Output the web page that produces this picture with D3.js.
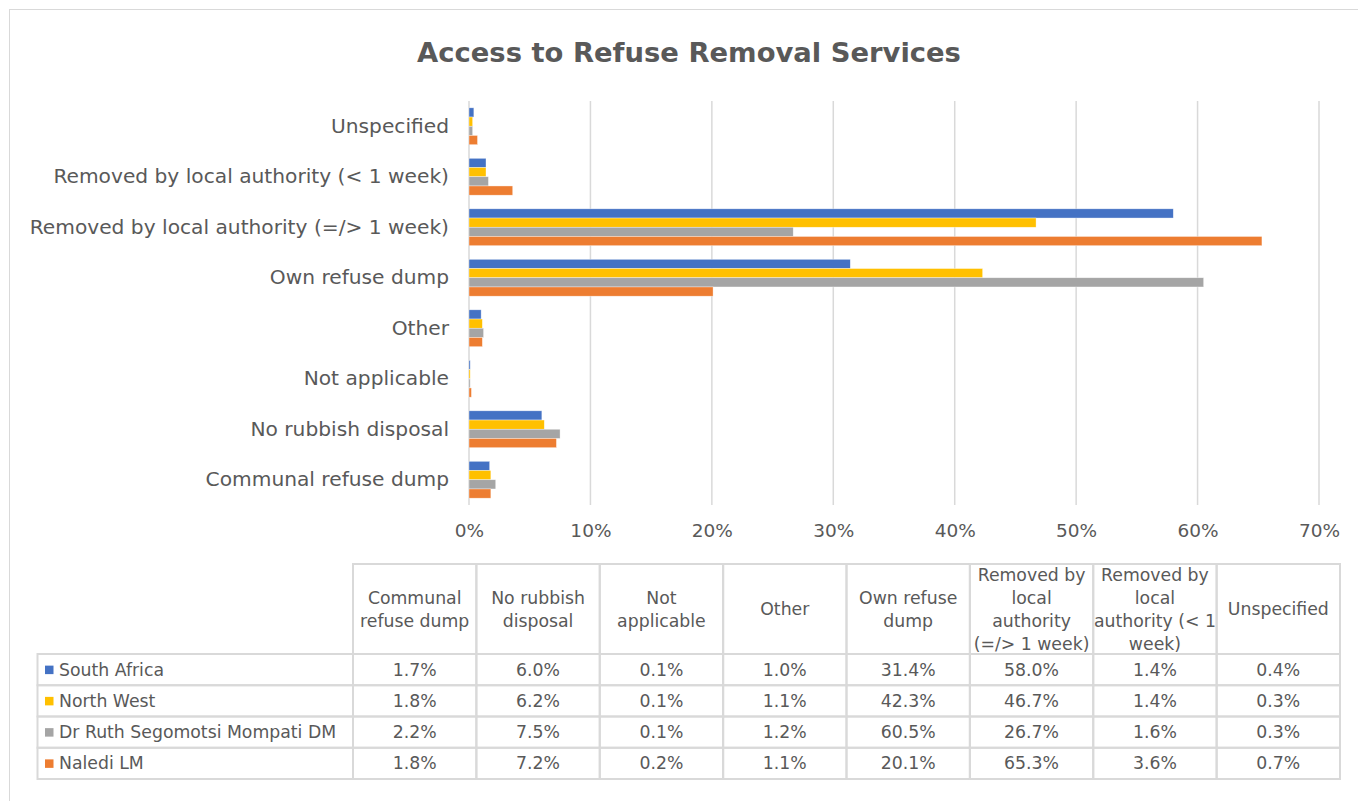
<!DOCTYPE html>
<html>
<head>
<meta charset="utf-8">
<script src="https://cdn.jsdelivr.net/npm/d3@7"></script>
<style>
  html, body { margin: 0; padding: 0; background: #fff; }
  svg { display: block; }
  text { font-family: "DejaVu Sans", sans-serif; fill: #595959; }
</style>
</head>
<body>
<svg id="chart" width="1358" height="801"></svg>
<script>
// Refuse removal categories, in table order (bottom-to-top on the bar chart)
const categories = [
  "Communal refuse dump",
  "No rubbish disposal",
  "Not applicable",
  "Other",
  "Own refuse dump",
  "Removed by local authority (=/> 1 week)",
  "Removed by local authority (< 1 week)",
  "Unspecified"
];

// Header text of the data table, split into lines
const headerLines = [
  ["Communal", "refuse dump"],
  ["No rubbish", "disposal"],
  ["Not", "applicable"],
  ["Other"],
  ["Own refuse", "dump"],
  ["Removed by", "local", "authority", "(=/> 1 week)"],
  ["Removed by", "local", "authority (< 1", "week)"],
  ["Unspecified"]
];

const seriesNames = ["South Africa", "North West", "Dr Ruth Segomotsi Mompati DM", "Naledi LM"];
const seriesColors = ["#4472C4", "#FFC000", "#A5A5A5", "#ED7D31"];

// Share of households (%) per category
const southAfrica = [1.7, 6.0, 0.1, 1.0, 31.4, 58.0, 1.4, 0.4];
const northWest   = [1.8, 6.2, 0.1, 1.1, 42.3, 46.7, 1.4, 0.3];
const drRuth      = [2.2, 7.5, 0.1, 1.2, 60.5, 26.7, 1.6, 0.3];
const naledi      = [1.8, 7.2, 0.2, 1.1, 20.1, 65.3, 3.6, 0.7];

const xTicks = [0, 10, 20, 30, 40, 50, 60, 70];

const seriesValues = [southAfrica, northWest, drRuth, naledi];

const svg = d3.select("#chart");

// Chart frame
svg.append("rect")
  .attr("x", 9.5).attr("y", 9.5)
  .attr("width", 1400).attr("height", 820)
  .attr("fill", "#fff")
  .attr("stroke", "#d9d9d9").attr("stroke-width", 1);

// Title
svg.append("text")
  .attr("x", 689).attr("y", 62)
  .attr("text-anchor", "middle")
  .style("font-size", "27.4px")
  .style("font-weight", "bold")
  .text("Access to Refuse Removal Services");

// Scales
const x = d3.scaleLinear().domain([0, 70]).range([469, 1319]);
const y = d3.scaleBand()
  .domain(categories.slice().reverse())
  .range([101, 505])
  .paddingInner(0.27)
  .paddingOuter(0.135);
const ySeries = d3.scaleBand()
  .domain(seriesNames)
  .range([0, y.bandwidth()]);

// Vertical gridlines
svg.append("g")
  .selectAll("line")
  .data(xTicks)
  .join("line")
  .attr("x1", d => x(d)).attr("x2", d => x(d))
  .attr("y1", 101).attr("y2", 505)
  .attr("stroke", "#d9d9d9").attr("stroke-width", 1.5);

// Bars
const groups = svg.append("g")
  .selectAll("g")
  .data(seriesNames)
  .join("g")
  .attr("fill", (d, i) => seriesColors[i]);

groups.selectAll("rect")
  .data((s, si) => categories.map((c, ci) => ({ c, s, v: seriesValues[si][ci] })))
  .join("rect")
  .attr("x", x(0))
  .attr("y", d => y(d.c) + ySeries(d.s))
  .attr("width", d => x(d.v) - x(0))
  .attr("height", ySeries.bandwidth())
  .attr("stroke", "rgba(255,255,255,0.6)")
  .attr("stroke-width", 0.6);

// Category axis
const yAxis = svg.append("g")
  .attr("transform", "translate(469,0)")
  .call(d3.axisLeft(y).tickSize(0).tickPadding(20));
yAxis.select(".domain").remove();
yAxis.selectAll("text")
  .style("font-size", "20.2px")
  .style("fill", "#595959")
  .style("font-family", "'DejaVu Sans', sans-serif");

// Value axis
const xAxis = svg.append("g")
  .attr("transform", "translate(0,505)")
  .call(d3.axisBottom(x).tickValues(xTicks).tickFormat(d => d + "%").tickSize(0).tickPadding(19));
xAxis.select(".domain").remove();
xAxis.selectAll("text")
  .style("font-size", "18.5px")
  .style("fill", "#595959")
  .style("font-family", "'DejaVu Sans', sans-serif");

// Data table
const colX = d3.scaleBand().domain(categories).range([353, 1340]);
const tableTop = 564, headerBottom = 654, tableBottom = 779, tableLeft = 37.5;
const rowY = d3.scaleBand().domain(seriesNames).range([headerBottom, tableBottom]);
const gridColor = "#d9d9d9";
const tableFont = "17.3px";
const tbl = svg.append("g");

// Header cells
tbl.selectAll("rect.hdr")
  .data(categories)
  .join("rect")
  .attr("class", "hdr")
  .attr("x", d => colX(d)).attr("y", tableTop)
  .attr("width", colX.bandwidth()).attr("height", headerBottom - tableTop)
  .attr("fill", "none").attr("stroke", gridColor).attr("stroke-width", 2);

const lineH = 23;
tbl.selectAll("text.hdr")
  .data(categories)
  .join("text")
  .attr("class", "hdr")
  .attr("text-anchor", "middle")
  .style("font-size", tableFont)
  .each(function (d, i) {
    const lines = headerLines[i];
    const cx = colX(d) + colX.bandwidth() / 2;
    const mid = (tableTop + headerBottom) / 2;
    const start = mid - (lines.length - 1) * lineH / 2;
    d3.select(this).selectAll("tspan")
      .data(lines)
      .join("tspan")
      .attr("x", cx)
      .attr("y", (l, k) => start + k * lineH)
      .attr("dy", "0.35em")
      .text(l => l);
  });

// Body rows
const rows = tbl.selectAll("g.row")
  .data(seriesNames)
  .join("g")
  .attr("class", "row");

rows.append("rect")
  .attr("x", tableLeft).attr("y", d => rowY(d))
  .attr("width", 353 - tableLeft).attr("height", rowY.bandwidth())
  .attr("fill", "none").attr("stroke", gridColor).attr("stroke-width", 2);

rows.selectAll("rect.cell")
  .data(categories)
  .join("rect")
  .attr("class", "cell")
  .attr("x", c => colX(c))
  .attr("y", function () { return rowY(d3.select(this.parentNode).datum()); })
  .attr("width", colX.bandwidth()).attr("height", rowY.bandwidth())
  .attr("fill", "none").attr("stroke", gridColor).attr("stroke-width", 2);

// Legend keys
rows.append("rect")
  .attr("x", 45).attr("y", d => rowY(d) + rowY.bandwidth() / 2 - 4)
  .attr("width", 8.5).attr("height", 8.5)
  .attr("fill", (d, i) => seriesColors[i]);

rows.append("text")
  .attr("x", 59).attr("y", d => rowY(d) + rowY.bandwidth() / 2)
  .attr("dy", "0.35em")
  .style("font-size", tableFont)
  .text(d => d);

rows.each(function (s, si) {
  d3.select(this).selectAll("text.val")
    .data(categories)
    .join("text")
    .attr("class", "val")
    .attr("x", c => colX(c) + colX.bandwidth() / 2)
    .attr("y", rowY(s) + rowY.bandwidth() / 2)
    .attr("dy", "0.35em")
    .attr("text-anchor", "middle")
    .style("font-size", tableFont)
    .text((c, ci) => seriesValues[si][ci].toFixed(1) + "%");
});
</script>
</body>
</html>
